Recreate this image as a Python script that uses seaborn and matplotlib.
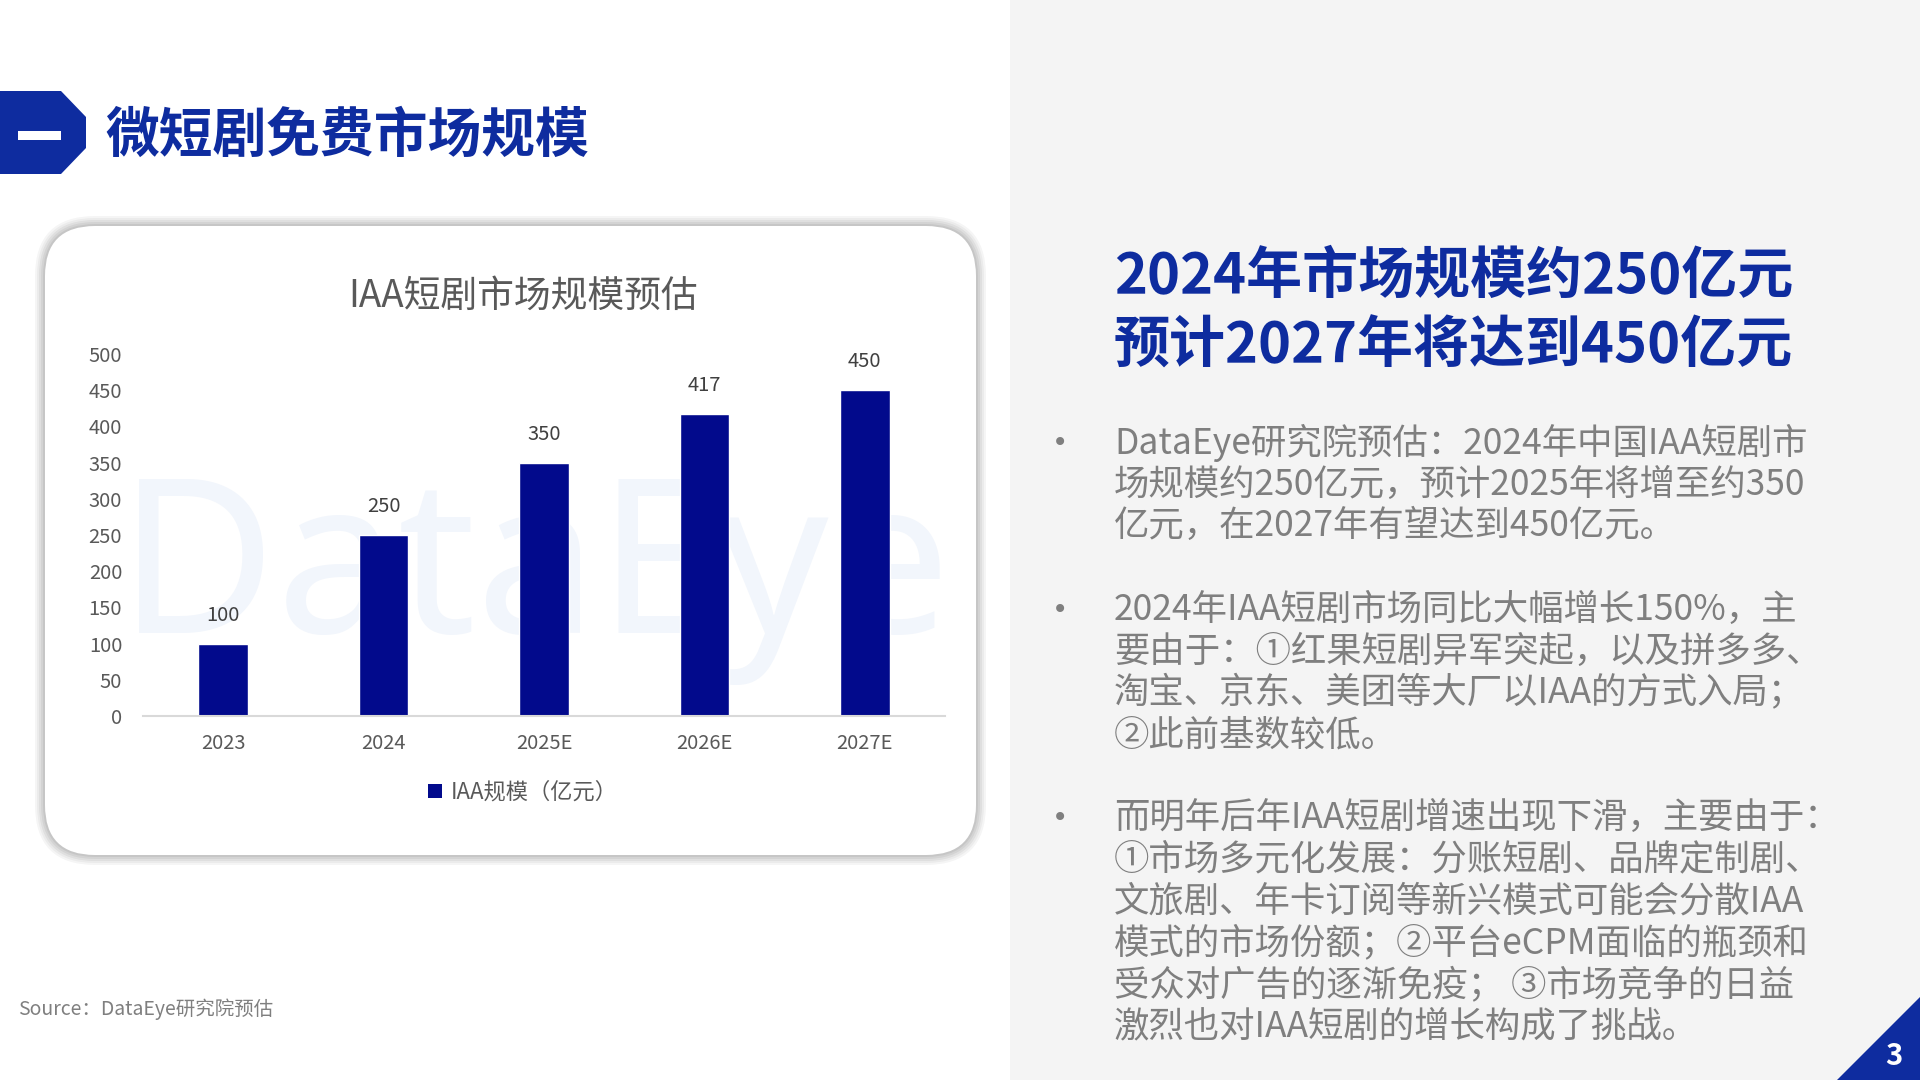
import matplotlib
matplotlib.use("Agg")
import matplotlib.pyplot as plt
import seaborn as sns
import pandas as pd
from matplotlib.patches import FancyBboxPatch, Polygon, Rectangle, Patch

# ---------------- data ----------------
categories = ["2023", "2024", "2025E", "2026E", "2027E"]
values = [100, 250, 350, 417, 450]
y_ticks = [0, 50, 100, 150, 200, 250, 300, 350, 400, 450, 500]
series_name = "IAA规模（亿元）"
chart_title = "IAA短剧市场规模预估"
page_title = "微短剧免费市场规模"
headline_lines = ["2024年市场规模约250亿元", "预计2027年将达到450亿元"]
bullet1 = ["DataEye研究院预估：2024年中国IAA短剧市",
           "场规模约250亿元，预计2025年将增至约350",
           "亿元，在2027年有望达到450亿元。"]
bullet2 = ["2024年IAA短剧市场同比大幅增长150%，主",
           "要由于：①红果短剧异军突起，以及拼多多、",
           "淘宝、京东、美团等大厂以IAA的方式入局；",
           "②此前基数较低。"]
bullet3 = ["而明年后年IAA短剧增速出现下滑，主要由于：",
           "①市场多元化发展：分账短剧、品牌定制剧、",
           "文旅剧、年卡订阅等新兴模式可能会分散IAA",
           "模式的市场份额；②平台eCPM面临的瓶颈和",
           "受众对广告的逐渐免疫； ③市场竞争的日益",
           "激烈也对IAA短剧的增长构成了挑战。"]
source_text = "Source：DataEye研究院预估"
page_number = "3"
watermark = "DataEye"

# ---------------- style ----------------
sns.set_theme(style="white")
CJK = ['Noto Sans CJK SC', 'DejaVu Sans']
NARROW = ['Liberation Sans Narrow', 'Noto Sans CJK SC', 'DejaVu Sans']
plt.rcParams['font.family'] = CJK

BLUE = '#0E2C9F'
BAR = '#020A8C'
GRAY_TXT = '#7F7F7F'

fig = plt.figure(figsize=(19.2, 10.8), dpi=100)
fig.patch.set_facecolor('white')

# background canvas in pixel coordinates
bg = fig.add_axes([0, 0, 1, 1], zorder=0)
bg.set_xlim(0, 1920)
bg.set_ylim(1080, 0)
bg.axis('off')

# right grey panel
bg.add_patch(Rectangle((1010, 0), 910, 1080, facecolor='#F4F4F4', edgecolor='none', zorder=0))

# header shape
bg.add_patch(Polygon([(0, 91), (61, 91), (86, 117), (86, 148), (61, 174), (0, 174)],
                     closed=True, facecolor=BLUE, edgecolor='none', zorder=1))
bg.add_patch(Rectangle((18, 131), 43, 9, facecolor='white', edgecolor='none', zorder=2))
bg.text(105, 136, page_title, fontsize=38.7, fontweight='bold', color=BLUE,
        ha='left', va='center', family=CJK, zorder=2)

# card shadow + card
for i, a in enumerate([0.04, 0.04, 0.05, 0.05, 0.06]):
    g = 10 - 2 * i
    bg.add_patch(FancyBboxPatch((45 - g, 226 - g), 931 + 2 * g, 629 + 2 * g,
                                boxstyle="round,pad=0,rounding_size=%d" % (50 + g),
                                facecolor='black', edgecolor='none', alpha=a, zorder=1))
bg.add_patch(FancyBboxPatch((45, 226), 931, 629, boxstyle="round,pad=0,rounding_size=50",
                            facecolor='white', edgecolor='none', zorder=2))

# watermark
bg.text(118, 633, watermark, fontsize=156, color='#F2F6FC',
        ha='left', va='baseline', family=['Noto Sans', 'DejaVu Sans'], zorder=3)

# chart title
bg.text(523, 296, chart_title, fontsize=26.5, color='#595959', ha='center', va='center',
        family=NARROW, zorder=4)

# ---------------- chart ----------------
ax = fig.add_axes([143 / 1920, 1 - 716 / 1080, 802 / 1920, 362 / 1080], zorder=2)
ax.patch.set_alpha(0)
df = pd.DataFrame({"year": categories, "value": values})
sns.barplot(data=df, x="year", y="value", color=BAR, width=0.31, saturation=1, ax=ax)
ax.set_xlim(-0.5, len(categories) - 0.5)
ax.set_ylim(0, 500)
ax.set_yticks(y_ticks)
ax.set_xlabel("")
ax.set_ylabel("")
ax.grid(False)
for s in ['top', 'right', 'left']:
    ax.spines[s].set_visible(False)
ax.spines['bottom'].set_color('#D9D9D9')
ax.spines['bottom'].set_linewidth(1.5)
ax.tick_params(axis='y', length=0, pad=15, labelsize=14.5, labelcolor='#595959')
ax.tick_params(axis='x', length=0, pad=12, labelsize=14.5, labelcolor='#595959')
for lbl in ax.get_xticklabels() + ax.get_yticklabels():
    lbl.set_fontfamily(NARROW)
ax.bar_label(ax.containers[0], padding=13, fontsize=14.5, color='#404040', family=NARROW)

leg = ax.legend(handles=[Patch(facecolor=BAR, edgecolor='none', label=series_name)],
                loc='center', bbox_to_anchor=(523 / 1920, 1 - 792 / 1080),
                bbox_transform=fig.transFigure, frameon=False, handlelength=0.6,
                handleheight=0.6, handletextpad=0.4, prop={'family': NARROW, 'size': 16})
for t in leg.get_texts():
    t.set_color('#595959')

# ---------------- right panel text ----------------
for i, line in enumerate(headline_lines):
    bg.text(1114, 277 + i * 70, line, fontsize=40.3, fontweight='bold', color=BLUE,
            ha='left', va='center', family=CJK, zorder=3)

def draw_bullet(lines, y0):
    bg.text(1060, y0, "•", fontsize=20, color=GRAY_TXT, ha='center', va='center',
            family=['DejaVu Sans'], zorder=3)
    for j, line in enumerate(lines):
        bg.text(1114, y0 + j * 41.7, line, fontsize=25.5, color=GRAY_TXT,
                ha='left', va='center', family=CJK, zorder=3)

draw_bullet(bullet1, 443)
draw_bullet(bullet2, 610)
draw_bullet(bullet3, 818)

# source
bg.text(18, 1009, source_text, fontsize=14, color=GRAY_TXT, ha='left', va='center',
        family=CJK, zorder=3)

# page number triangle
bg.add_patch(Polygon([(1837, 1080), (1920, 997), (1920, 1080)], closed=True,
                     facecolor=BLUE, edgecolor='none', zorder=3))
bg.text(1894, 1056, page_number, fontsize=21, fontweight='bold', color='white',
        ha='center', va='center', family=CJK, zorder=4)

fig.savefig("out.png", dpi=100)
